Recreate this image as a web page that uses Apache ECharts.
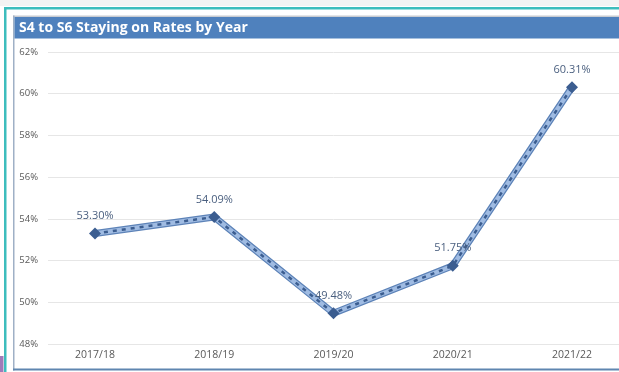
<!DOCTYPE html>
<html>
<head>
<meta charset="utf-8">
<script src="https://cdn.jsdelivr.net/npm/echarts@6/dist/echarts.min.js"></script>
<style>
  html, body { margin: 0; padding: 0; background: #ffffff; }
  #chart { width: 619px; height: 372px; }
</style>
</head>
<body>
<div id="chart"></div>
<script>
// Staying-on rates, S4 to S6, by academic year
const years = ['2017/18', '2018/19', '2019/20', '2020/21', '2021/22'];
const rates = [53.30, 54.09, 49.48, 51.75, 60.31];
const yMin = 48, yMax = 62, yStep = 2;

const FONT = '"Open Sans", "Noto Sans", sans-serif';

const chart = echarts.init(document.getElementById('chart'), null, { renderer: 'canvas' });

const lineBase = {
  type: 'line',
  xAxisIndex: 1,
  yAxisIndex: 1,
  data: rates,
  symbol: 'none',
  silent: true,
  animation: false
};

chart.setOption({
  animation: false,
  title: {
    text: 'S4 to S6 Staying on Rates by Year',
    left: 19,
    top: 18,
    padding: 0,
    textStyle: { color: '#ffffff', fontFamily: FONT, fontWeight: 'bold', fontSize: 14, lineHeight: 20 }
  },
  graphic: [
    // page background strip and frame
    { type: 'rect', z: -10, shape: { x: 0, y: 0, width: 619, height: 6 }, style: { fill: '#f3f3f3' } },
    { type: 'rect', z: -10, shape: { x: 4, y: 7, width: 615, height: 2.5 }, style: { fill: '#3dbdbd' } },
    { type: 'rect', z: -10, shape: { x: 4, y: 7, width: 2.5, height: 365 }, style: { fill: '#3dbdbd' } },
    { type: 'rect', z: -10, shape: { x: 0, y: 356, width: 3.5, height: 16 }, style: { fill: '#a07ab8' } },
    // panel borders
    { type: 'rect', z: -10, shape: { x: 13, y: 15.5, width: 606, height: 1.5 }, style: { fill: '#c8ccd2' } },
    { type: 'rect', z: -10, shape: { x: 13, y: 15.5, width: 1.5, height: 355 }, style: { fill: '#9fb0c6' } },
    { type: 'rect', z: -10, shape: { x: 13, y: 368.5, width: 606, height: 2 }, style: { fill: '#5f86b0' } },
    // title bar
    { type: 'rect', z: -9, shape: { x: 14.5, y: 17, width: 605, height: 21.5 }, style: { fill: '#4f81bd' } }
  ],
  grid: [
    { left: 48, right: 0, top: 52, bottom: 28 },
    { left: 95, right: 47, top: 52, bottom: 28 }
  ],
  xAxis: [
    { gridIndex: 0, type: 'value', show: false, min: 0, max: 1 },
    {
      gridIndex: 1,
      type: 'category',
      data: years,
      boundaryGap: false,
      axisLine: { show: false },
      axisTick: { show: false },
      splitLine: { show: false },
      axisLabel: { color: '#595959', fontFamily: FONT, fontSize: 10.5, margin: 6 }
    }
  ],
  yAxis: [
    {
      gridIndex: 0,
      type: 'value',
      min: yMin, max: yMax, interval: yStep,
      axisLine: { show: false },
      axisTick: { show: false },
      axisLabel: {
        color: '#595959', fontFamily: FONT, fontSize: 9.5, margin: 10,
        formatter: v => v + '%'
      },
      splitLine: { lineStyle: { color: '#e6e6e6', width: 1 } }
    },
    {
      gridIndex: 1,
      type: 'value',
      min: yMin, max: yMax, interval: yStep,
      show: false
    }
  ],
  series: [
    Object.assign({}, lineBase, { z: 2, lineStyle: { color: '#5d83b8', width: 7 } }),
    Object.assign({}, lineBase, { z: 3, lineStyle: { color: '#9fbbe2', width: 4.5 } }),
    Object.assign({}, lineBase, {
      z: 4,
      silent: false,
      symbol: 'diamond',
      symbolSize: 12,
      itemStyle: { color: '#3b5d90' },
      lineStyle: { color: '#3b5d90', width: 2.5, type: [4, 5] },
      label: {
        show: true,
        position: 'top',
        distance: 6,
        color: '#4a5f7f',
        fontFamily: FONT,
        fontSize: 11,
        formatter: p => p.value.toFixed(2) + '%'
      }
    })
  ]
});
</script>
</body>
</html>
